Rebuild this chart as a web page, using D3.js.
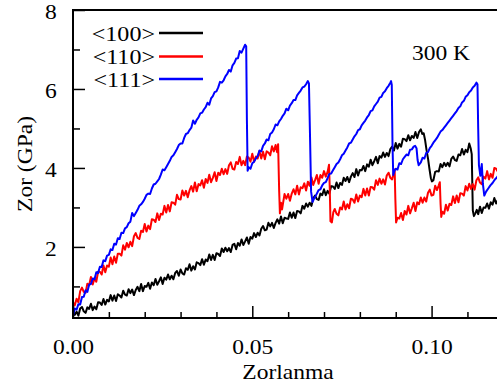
<!DOCTYPE html>
<html>
<head>
<meta charset="utf-8">
<script src="https://cdn.jsdelivr.net/npm/d3@7"></script>
<style>
  body { margin: 0; background: #fff; }
  svg { display: block; }
</style>
</head>
<body>
<div id="chart"></div>
<script>
// strain (Zorlanma) vs stress (Zor, GPa)
const ZOR_100 = [
  [0.0000,0.37],[0.0005,0.28],[0.0010,0.36],[0.0015,0.26],[0.0020,0.44],[0.0025,0.48],[0.0030,0.37],[0.0035,0.33],
  [0.0040,0.47],[0.0045,0.43],[0.0050,0.56],[0.0055,0.40],[0.0060,0.49],[0.0065,0.42],[0.0070,0.60],[0.0075,0.59],
  [0.0080,0.53],[0.0085,0.68],[0.0090,0.54],[0.0095,0.66],[0.0100,0.62],[0.0105,0.78],[0.0110,0.64],[0.0115,0.77],
  [0.0120,0.63],[0.0125,0.80],[0.0130,0.77],[0.0135,0.72],[0.0140,0.89],[0.0145,0.79],[0.0150,0.77],[0.0155,0.93],
  [0.0160,0.83],[0.0165,0.92],[0.0170,0.78],[0.0175,0.91],[0.0180,0.99],[0.0185,0.88],[0.0190,1.06],[0.0195,0.88],
  [0.0200,1.01],[0.0205,0.99],[0.0210,1.09],[0.0215,0.94],[0.0220,1.10],[0.0225,1.03],[0.0230,1.19],[0.0235,1.04],
  [0.0240,1.13],[0.0245,1.23],[0.0250,1.06],[0.0255,1.22],[0.0260,1.17],[0.0265,1.30],[0.0270,1.18],[0.0275,1.27],
  [0.0280,1.18],[0.0285,1.34],[0.0290,1.39],[0.0295,1.27],[0.0300,1.43],[0.0305,1.33],[0.0310,1.30],[0.0315,1.46],
  [0.0320,1.42],[0.0325,1.56],[0.0330,1.40],[0.0335,1.51],[0.0340,1.43],[0.0345,1.61],[0.0350,1.59],[0.0355,1.54],
  [0.0360,1.69],[0.0365,1.55],[0.0370,1.68],[0.0375,1.64],[0.0380,1.81],[0.0385,1.67],[0.0390,1.80],[0.0395,1.67],
  [0.0400,1.84],[0.0405,1.82],[0.0410,1.77],[0.0415,1.96],[0.0420,1.87],[0.0425,1.98],[0.0430,1.89],[0.0435,1.97],
  [0.0440,1.87],[0.0445,2.05],[0.0450,2.08],[0.0455,1.94],[0.0460,2.10],[0.0465,2.03],[0.0470,2.19],[0.0475,2.05],
  [0.0480,2.14],[0.0485,2.24],[0.0490,2.08],[0.0495,2.25],[0.0500,2.21],[0.0505,2.35],[0.0510,2.25],[0.0515,2.36],
  [0.0520,2.29],[0.0525,2.46],[0.0530,2.53],[0.0535,2.42],[0.0540,2.44],[0.0545,2.61],[0.0550,2.52],[0.0555,2.61],
  [0.0560,2.48],[0.0565,2.61],[0.0570,2.70],[0.0575,2.59],[0.0580,2.77],[0.0585,2.60],[0.0590,2.74],[0.0595,2.72],
  [0.0600,2.71],[0.0605,2.87],[0.0610,2.74],[0.0615,2.87],[0.0620,2.73],[0.0625,2.91],[0.0630,2.90],[0.0635,2.85],
  [0.0640,3.04],[0.0645,2.97],[0.0650,3.10],[0.0655,3.02],[0.0660,3.12],[0.0665,3.04],[0.0670,3.23],[0.0675,3.30],
  [0.0680,3.21],[0.0685,3.19],[0.0690,3.35],[0.0695,3.31],[0.0700,3.46],[0.0705,3.31],[0.0710,3.42],[0.0715,3.35],
  [0.0720,3.54],[0.0725,3.53],[0.0730,3.47],[0.0735,3.63],[0.0740,3.49],[0.0745,3.62],[0.0750,3.57],[0.0755,3.75],
  [0.0760,3.67],[0.0765,3.77],[0.0770,3.64],[0.0775,3.78],[0.0780,3.87],[0.0785,3.77],[0.0790,3.97],[0.0795,3.81],
  [0.0800,3.95],[0.0805,3.94],[0.0810,4.05],[0.0815,3.92],[0.0820,4.09],[0.0825,4.03],[0.0830,4.21],[0.0835,4.07],
  [0.0840,4.17],[0.0845,4.28],[0.0850,4.12],[0.0855,4.30],[0.0860,4.26],[0.0865,4.39],[0.0870,4.28],[0.0875,4.38],
  [0.0880,4.30],[0.0885,4.48],[0.0890,4.54],[0.0895,4.44],[0.0900,4.63],[0.0905,4.49],[0.0910,4.61],[0.0915,4.54],
  [0.0920,4.74],[0.0925,4.73],[0.0930,4.68],[0.0935,4.83],[0.0940,4.70],[0.0945,4.81],[0.0950,4.76],[0.0955,4.91],
  [0.0960,4.76],[0.0965,4.91],[0.0970,4.98],[0.0974,4.86],[0.0978,4.88],[0.0982,4.70],[0.0986,4.45],[0.0990,4.24],
  [0.0994,3.98],[0.0998,3.74],[0.1001,3.66],[0.1005,3.69],[0.1010,3.90],[0.1015,3.92],[0.1020,3.91],[0.1025,4.10],
  [0.1030,4.02],[0.1035,4.13],[0.1040,4.05],[0.1045,4.13],[0.1050,4.04],[0.1055,4.23],[0.1060,4.29],[0.1065,4.20],
  [0.1070,4.18],[0.1075,4.34],[0.1080,4.32],[0.1085,4.48],[0.1090,4.34],[0.1095,4.46],[0.1100,4.40],[0.1105,4.62],
  [0.1109,4.50],[0.1112,4.35],[0.1115,2.92],[0.1118,2.78],[0.1122,2.85],[0.1126,2.94],[0.1130,2.83],[0.1135,3.02],
  [0.1140,2.86],[0.1145,3.00],[0.1150,2.99],[0.1155,3.10],[0.1160,2.97],[0.1165,3.13],[0.1170,3.07],[0.1175,3.24],
  [0.1180,3.10],[0.1185,3.19],[0.1190,3.29],[0.1195,3.12],[0.1200,3.29]
];

const ZOR_110 = [
  [0.0000,0.60],[0.0005,0.52],[0.0010,0.69],[0.0015,0.60],[0.0020,0.88],[0.0025,0.97],[0.0030,0.86],[0.0035,0.84],
  [0.0040,1.07],[0.0045,1.03],[0.0050,1.24],[0.0055,1.05],[0.0060,1.20],[0.0065,1.12],[0.0070,1.37],[0.0075,1.37],
  [0.0080,1.30],[0.0085,1.53],[0.0090,1.36],[0.0095,1.53],[0.0100,1.50],[0.0105,1.73],[0.0110,1.56],[0.0115,1.76],
  [0.0120,1.60],[0.0125,1.83],[0.0130,1.83],[0.0135,1.78],[0.0140,2.04],[0.0145,1.93],[0.0150,2.10],[0.0155,1.99],
  [0.0160,2.13],[0.0165,2.02],[0.0170,2.27],[0.0175,2.35],[0.0180,2.23],[0.0185,2.20],[0.0190,2.41],[0.0195,2.38],
  [0.0200,2.58],[0.0205,2.39],[0.0210,2.54],[0.0215,2.45],[0.0220,2.70],[0.0225,2.69],[0.0230,2.63],[0.0235,2.85],
  [0.0240,2.68],[0.0245,2.84],[0.0250,2.82],[0.0255,3.04],[0.0260,2.87],[0.0265,3.06],[0.0270,2.90],[0.0275,3.13],
  [0.0280,3.12],[0.0285,3.07],[0.0290,3.32],[0.0295,3.21],[0.0300,3.20],[0.0305,3.43],[0.0310,3.30],[0.0315,3.42],
  [0.0320,3.26],[0.0325,3.43],[0.0330,3.54],[0.0335,3.40],[0.0340,3.63],[0.0345,3.41],[0.0350,3.59],[0.0355,3.56],
  [0.0360,3.69],[0.0365,3.50],[0.0370,3.72],[0.0375,3.62],[0.0380,3.83],[0.0385,3.64],[0.0390,3.75],[0.0395,3.89],
  [0.0400,3.67],[0.0405,3.88],[0.0410,3.82],[0.0415,3.98],[0.0420,3.84],[0.0425,3.97],[0.0430,3.85],[0.0435,4.07],
  [0.0440,4.14],[0.0445,3.98],[0.0450,3.96],[0.0455,4.15],[0.0460,4.10],[0.0465,4.28],[0.0470,4.07],[0.0475,4.18],
  [0.0480,4.07],[0.0485,4.29],[0.0490,4.26],[0.0495,4.16],[0.0500,4.36],[0.0505,4.16],[0.0510,4.29],[0.0515,4.24],
  [0.0520,4.43],[0.0525,4.24],[0.0530,4.41],[0.0535,4.22],[0.0540,4.42],[0.0545,4.39],[0.0550,4.32],[0.0555,4.55],
  [0.0560,4.42],[0.0565,4.58],[0.0569,4.40],[0.0572,4.60],[0.0575,3.40],[0.0577,2.85],[0.0580,3.12],[0.0583,2.95],
  [0.0586,3.12],[0.0590,3.34],[0.0595,3.22],[0.0600,3.34],[0.0605,3.17],[0.0610,3.35],[0.0615,3.46],[0.0620,3.33],
  [0.0625,3.55],[0.0630,3.33],[0.0635,3.51],[0.0640,3.49],[0.0645,3.61],[0.0650,3.43],[0.0655,3.65],[0.0660,3.55],
  [0.0665,3.76],[0.0670,3.57],[0.0675,3.69],[0.0680,3.82],[0.0685,3.60],[0.0690,3.82],[0.0695,3.75],[0.0700,3.92],
  [0.0705,3.78],[0.0710,3.90],[0.0714,4.08],[0.0716,3.50],[0.0718,2.65],[0.0722,2.62],[0.0726,2.88],[0.0730,2.96],
  [0.0735,2.84],[0.0740,2.80],[0.0745,3.00],[0.0750,2.95],[0.0755,3.15],[0.0760,2.95],[0.0765,3.08],[0.0770,2.98],
  [0.0775,3.22],[0.0780,3.20],[0.0785,3.12],[0.0790,3.33],[0.0795,3.15],[0.0800,3.30],[0.0805,3.26],[0.0810,3.47],
  [0.0815,3.30],[0.0820,3.48],[0.0825,3.30],[0.0830,3.52],[0.0835,3.51],[0.0840,3.45],[0.0845,3.69],[0.0850,3.57],
  [0.0855,3.73],[0.0860,3.60],[0.0865,3.71],[0.0870,3.58],[0.0875,3.81],[0.0880,3.88],[0.0885,3.75],[0.0890,3.71],
  [0.0894,3.86],[0.0897,3.96],[0.0899,3.20],[0.0901,2.62],[0.0905,2.74],[0.0910,2.72],[0.0915,2.86],[0.0920,2.68],
  [0.0925,2.91],[0.0930,2.82],[0.0935,3.04],[0.0940,2.85],[0.0945,2.98],[0.0950,3.12],[0.0955,2.91],[0.0960,3.13],
  [0.0965,3.08],[0.0970,3.25],[0.0975,3.12],[0.0980,3.25],[0.0985,3.15],[0.0990,3.37],[0.0995,3.45],[0.1000,3.30],
  [0.1005,3.32],[0.1010,3.55],[0.1015,3.44],[0.1020,3.56],[0.1023,3.64],[0.1025,3.10],[0.1027,2.76],[0.1030,2.89],
  [0.1035,2.84],[0.1040,3.07],[0.1045,2.92],[0.1050,3.09],[0.1055,3.06],[0.1060,3.28],[0.1065,3.11],[0.1070,3.30],
  [0.1075,3.13],[0.1080,3.36],[0.1085,3.35],[0.1090,3.30],[0.1095,3.54],[0.1100,3.43],[0.1105,3.60],[0.1110,3.47],
  [0.1115,3.59],[0.1120,3.45],[0.1125,3.69],[0.1130,3.76],[0.1135,3.63],[0.1140,3.59],[0.1145,3.78],[0.1150,3.73],
  [0.1155,3.92],[0.1160,3.71],[0.1165,3.85],[0.1170,3.75],[0.1175,4.00],[0.1180,3.98],[0.1185,3.90],[0.1190,4.10],
  [0.1195,3.90],[0.1200,4.04]
];

const ZOR_111 = [
  [0.0000,0.25],[0.0005,0.44],[0.0010,0.41],[0.0015,0.55],[0.0020,0.54],[0.0025,0.73],[0.0030,0.74],[0.0035,0.90],
  [0.0040,0.86],[0.0045,1.05],[0.0050,1.06],[0.0055,1.20],[0.0060,1.18],[0.0065,1.36],[0.0070,1.34],[0.0075,1.50],
  [0.0080,1.49],[0.0085,1.66],[0.0090,1.64],[0.0095,1.78],[0.0100,1.80],[0.0105,1.94],[0.0110,1.92],[0.0115,2.08],
  [0.0120,2.06],[0.0125,2.22],[0.0130,2.20],[0.0135,2.36],[0.0140,2.35],[0.0145,2.47],[0.0150,2.50],[0.0155,2.60],
  [0.0160,2.64],[0.0165,2.86],[0.0170,2.78],[0.0175,2.86],[0.0180,2.94],[0.0185,3.04],[0.0190,3.08],[0.0195,3.14],
  [0.0200,3.22],[0.0205,3.32],[0.0210,3.35],[0.0215,3.34],[0.0220,3.48],[0.0225,3.58],[0.0230,3.60],[0.0235,3.66],
  [0.0240,3.72],[0.0245,3.83],[0.0250,3.96],[0.0255,3.94],[0.0260,4.02],[0.0265,4.10],[0.0270,4.18],[0.0275,4.28],
  [0.0280,4.32],[0.0285,4.40],[0.0290,4.48],[0.0295,4.58],[0.0300,4.62],[0.0305,4.62],[0.0310,4.76],[0.0315,4.86],
  [0.0320,4.88],[0.0325,4.96],[0.0330,5.02],[0.0335,5.20],[0.0340,5.12],[0.0345,5.22],[0.0350,5.28],[0.0355,5.38],
  [0.0360,5.40],[0.0365,5.48],[0.0370,5.54],[0.0375,5.65],[0.0380,5.60],[0.0385,5.76],[0.0390,5.82],[0.0395,5.92],
  [0.0400,5.94],[0.0405,6.04],[0.0410,6.18],[0.0415,6.16],[0.0420,6.22],[0.0425,6.32],[0.0430,6.38],[0.0435,6.48],
  [0.0440,6.44],[0.0445,6.60],[0.0450,6.66],[0.0455,6.77],[0.0460,6.78],[0.0465,6.96],[0.0470,6.92],[0.0475,7.02],
  [0.0480,7.12],[0.0483,7.08],[0.0485,5.20],[0.0487,3.93],[0.0490,4.02],[0.0495,3.98],[0.0500,4.12],[0.0505,4.16],
  [0.0510,4.24],[0.0515,4.30],[0.0520,4.44],[0.0525,4.42],[0.0530,4.56],[0.0535,4.62],[0.0540,4.72],[0.0545,4.70],
  [0.0550,4.86],[0.0555,4.90],[0.0560,4.98],[0.0565,5.10],[0.0570,5.08],[0.0575,5.18],[0.0580,5.24],[0.0585,5.32],
  [0.0590,5.38],[0.0595,5.50],[0.0600,5.46],[0.0605,5.58],[0.0610,5.64],[0.0615,5.72],[0.0620,5.72],[0.0625,5.84],
  [0.0630,5.90],[0.0635,5.96],[0.0640,6.04],[0.0645,6.06],[0.0650,6.12],[0.0655,6.20],[0.0658,6.14],[0.0661,4.80],
  [0.0664,3.40],[0.0668,3.14],[0.0672,3.22],[0.0676,3.28],[0.0680,3.35],[0.0685,3.44],[0.0690,3.46],[0.0695,3.56],
  [0.0700,3.62],[0.0705,3.64],[0.0710,3.74],[0.0715,3.85],[0.0720,3.86],[0.0725,3.94],[0.0730,4.02],[0.0735,4.10],
  [0.0740,4.14],[0.0745,4.22],[0.0750,4.32],[0.0755,4.36],[0.0760,4.44],[0.0765,4.52],[0.0770,4.62],[0.0775,4.64],
  [0.0780,4.72],[0.0785,4.80],[0.0790,4.86],[0.0795,4.96],[0.0800,4.98],[0.0805,5.08],[0.0810,5.14],[0.0815,5.20],
  [0.0820,5.28],[0.0825,5.34],[0.0830,5.44],[0.0835,5.46],[0.0840,5.56],[0.0845,5.62],[0.0850,5.68],[0.0855,5.78],
  [0.0860,5.80],[0.0865,5.90],[0.0870,5.94],[0.0875,6.02],[0.0880,6.08],[0.0885,6.16],[0.0887,6.20],[0.0889,6.10],
  [0.0891,4.60],[0.0893,3.82],[0.0897,3.94],[0.0900,3.98],[0.0905,3.96],[0.0910,4.12],[0.0915,4.10],[0.0920,4.22],
  [0.0925,4.28],[0.0930,4.34],[0.0935,4.32],[0.0940,4.46],[0.0945,4.47],[0.0950,4.54],[0.0954,4.56],[0.0958,4.50],
  [0.0961,4.20],[0.0964,4.07],[0.0970,4.14],[0.0975,4.26],[0.0980,4.24],[0.0985,4.38],[0.0990,4.40],[0.0995,4.50],
  [0.1000,4.56],[0.1005,4.64],[0.1010,4.70],[0.1015,4.76],[0.1020,4.84],[0.1025,4.92],[0.1030,4.96],[0.1035,5.02],
  [0.1040,5.08],[0.1045,5.14],[0.1050,5.20],[0.1055,5.26],[0.1060,5.32],[0.1065,5.38],[0.1070,5.44],[0.1075,5.52],
  [0.1080,5.56],[0.1085,5.66],[0.1090,5.70],[0.1095,5.80],[0.1100,5.84],[0.1105,5.92],[0.1110,5.96],[0.1115,6.04],
  [0.1120,6.08],[0.1125,6.16],[0.1128,6.12],[0.1130,5.00],[0.1132,4.07],[0.1136,3.80],[0.1140,4.10],[0.1143,3.60],
  [0.1147,3.30],[0.1152,3.40],[0.1158,3.48],[0.1164,3.56],[0.1170,3.62],[0.1176,3.70],[0.1182,3.76],[0.1190,3.86],
  [0.1200,3.92]
];

const SERIES_LABELS = ["<100>", "<110>", "<111>"];
const SERIES_COLORS = ["#000000", "#ff0000", "#0000ff"];
const STRAIN_TICKS = [0, 0.05, 0.10];
const STRAIN_MINOR = [0.01, 0.02, 0.03, 0.04, 0.06, 0.07, 0.08, 0.09, 0.11];
const ZOR_TICKS = [2, 4, 6, 8];
const ZOR_MINOR = [1, 3, 5, 7];

const SERIF = "'Liberation Serif', 'Times New Roman', 'DejaVu Serif', serif";

function drawChart() {
    const width = 497, height = 390;
    // plot box; right edge sits past the picture, like the original crop
    const left = 73, top = 10, right = 503.3, bottom = 318;
    const stretch = 1.12; // the original glyphs are a bit wider than Times

    const svg = d3.select("#chart").append("svg")
        .attr("width", width)
        .attr("height", height)
        .attr("font-family", SERIF);

    const x = d3.scaleLinear().domain([0, 0.12]).range([left, right]);
    const y = d3.scaleLinear().domain([0.2, 8]).range([bottom, top]);

    svg.append("clipPath").attr("id", "plot-clip")
        .append("rect")
        .attr("x", left).attr("y", top)
        .attr("width", right - left).attr("height", bottom - top);

    // curves
    const line = d3.line().x(d => x(d[0])).y(d => y(d[1]));
    const allSeries = [ZOR_100, ZOR_110, ZOR_111];
    svg.append("g")
        .attr("clip-path", "url(#plot-clip)")
        .selectAll("path")
        .data(allSeries)
        .enter()
        .append("path")
        .attr("d", d => line(d))
        .attr("fill", "none")
        .attr("stroke", (d, i) => SERIES_COLORS[i])
        .attr("stroke-width", 2)
        .attr("stroke-linejoin", "round");

    // minor ticks
    svg.append("g")
        .attr("transform", `translate(0,${bottom})`)
        .call(d3.axisBottom(x).tickValues(STRAIN_MINOR).tickSize(-6).tickFormat(""))
        .call(g => g.select(".domain").remove());
    svg.append("g")
        .attr("transform", `translate(${left},0)`)
        .call(d3.axisLeft(y).tickValues(ZOR_MINOR).tickSize(-7).tickFormat(""))
        .call(g => g.select(".domain").remove());

    // major ticks with labels
    const xAxis = svg.append("g")
        .attr("transform", `translate(0,${bottom})`)
        .call(d3.axisBottom(x).tickValues(STRAIN_TICKS).tickSize(-12).tickPadding(21)
            .tickFormat(d3.format(".2f")));
    xAxis.select(".domain").remove();

    const yAxis = svg.append("g")
        .attr("transform", `translate(${left},0)`)
        .call(d3.axisLeft(y).tickValues(ZOR_TICKS).tickSize(-12).tickPadding(14.5));
    yAxis.select(".domain").remove();
    yAxis.selectAll("text").attr("dy", "0.4em");

    svg.selectAll("g").filter(function () { return this.hasAttribute("font-family"); })
        .attr("font-family", SERIF);
    svg.selectAll(".tick line").attr("stroke", "#000").attr("stroke-width", 1.5);
    svg.selectAll(".tick text")
        .attr("font-family", SERIF)
        .attr("font-size", 21)
        .attr("fill", "#000")
        .attr("transform", `scale(${stretch},1)`);

    // frame: top, left, bottom (right side is cut off)
    svg.append("path")
        .attr("d", `M${width + 5},${top}H${left}V${bottom}H${width + 5}`)
        .attr("fill", "none")
        .attr("stroke", "#000")
        .attr("stroke-width", 2);

    function label(txt, tx, ty, anchor, size, rot) {
        svg.append("text")
            .attr("transform", `translate(${tx},${ty})` + (rot ? ` rotate(${rot})` : "") + ` scale(${stretch},1)`)
            .attr("text-anchor", anchor)
            .attr("font-family", SERIF)
            .attr("font-size", size)
            .attr("fill", "#000")
            .text(txt);
    }

    label("Zorlanma", 288, 379, "middle", 21);
    label("Zor (GPa)", 31.5, 164, "middle", 21, -90);
    label("300 K", 470, 60, "end", 21);

    // legend
    const rows = [33, 56.5, 79];
    SERIES_LABELS.forEach((name, i) => {
        label(name, 155, rows[i] + 7.5, "end", 21.5);
        svg.append("line")
            .attr("x1", 159).attr("x2", 203)
            .attr("y1", rows[i]).attr("y2", rows[i])
            .attr("stroke", SERIES_COLORS[i])
            .attr("stroke-width", 2.6);
    });
}

window.onload = () => {
    drawChart();
};
</script>
</body>
</html>
